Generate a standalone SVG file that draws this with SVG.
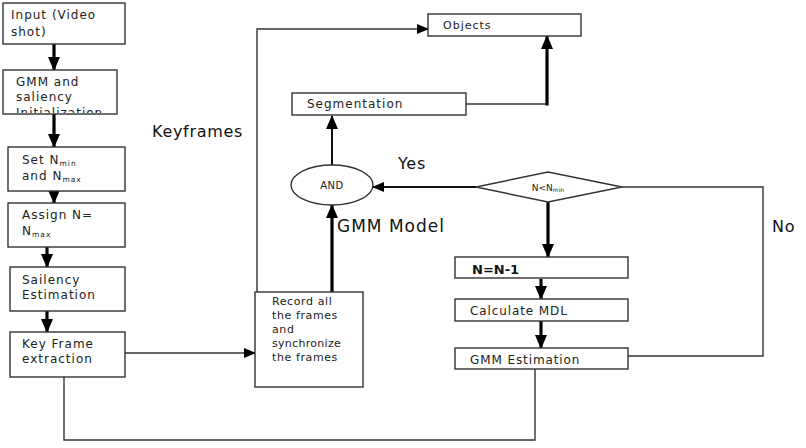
<svg xmlns="http://www.w3.org/2000/svg" width="806" height="448" viewBox="0 0 806 448">
<style>
.box{fill:#fff;stroke:#333;stroke-width:1.4}
.t{font-family:"DejaVu Sans",sans-serif;font-size:12px;fill:#222;letter-spacing:1px}
.tb{font-family:"DejaVu Sans",sans-serif;font-size:13px;fill:#111;font-weight:bold}
.lbl{font-family:"DejaVu Sans",sans-serif;font-size:16px;fill:#111;letter-spacing:0.7px}
.sub{font-size:7.5px}
.thin{fill:none;stroke:#333;stroke-width:1.4}
.mid{fill:none;stroke:#111;stroke-width:2}
.thick{fill:none;stroke:#000;stroke-width:3.2}
</style>
<defs>
<marker id="ah" markerUnits="userSpaceOnUse" markerWidth="12" markerHeight="10" refX="11" refY="5" orient="auto"><path d="M0,0 L12,5 L0,10 z" fill="#000"/></marker>
<marker id="ahb" markerUnits="userSpaceOnUse" markerWidth="14" markerHeight="12" refX="13" refY="6" orient="auto"><path d="M0,0 L14,6 L0,12 z" fill="#000"/></marker>
<clipPath id="cl"><rect x="3" y="70" width="114" height="43"/></clipPath>
</defs>
<g id="connectors">
<line class="thick" x1="54" y1="44" x2="54" y2="70" marker-end="url(#ahb)"/>
<line class="thick" x1="54" y1="114" x2="54" y2="147" marker-end="url(#ahb)"/>
<line class="thick" x1="54" y1="191" x2="54" y2="203" marker-end="url(#ahb)"/>
<line class="thick" x1="47" y1="247" x2="47" y2="267" marker-end="url(#ahb)"/>
<line class="thick" x1="47" y1="311" x2="47" y2="332" marker-end="url(#ahb)"/>
<line class="thin" x1="125" y1="353" x2="255" y2="353" marker-end="url(#ah)"/>
<polyline class="thin" points="257,292 257,29 428,29" marker-end="url(#ah)"/>
<line class="thick" x1="332" y1="292" x2="332" y2="205" marker-end="url(#ahb)"/>
<line class="mid" x1="332" y1="165" x2="332" y2="116" marker-end="url(#ahb)"/>
<line class="thin" x1="466" y1="104" x2="547" y2="104"/>
<line class="thick" x1="547" y1="105.5" x2="547" y2="36" marker-end="url(#ahb)"/>
<line class="mid" x1="476" y1="187" x2="373" y2="187" marker-end="url(#ah)"/>
<line class="thick" x1="548" y1="202" x2="548" y2="257" marker-end="url(#ahb)"/>
<line class="thick" x1="541" y1="279" x2="541" y2="299" marker-end="url(#ahb)"/>
<line class="thick" x1="541" y1="321" x2="541" y2="348" marker-end="url(#ahb)"/>
<polyline class="thin" points="622,187 763,187 763,356 628,356"/>
<polyline class="thin" points="64,377 64,440 535,440 535,369"/>
</g>
<g id="input"><rect class="box" x="3" y="3" width="122" height="41"/><text class="t" x="11" y="19">Input (Video</text><text class="t" x="11" y="36">shot)</text></g>
<g id="gmm-init"><rect class="box" x="3" y="70" width="114" height="44"/><g clip-path="url(#cl)"><text class="t" x="16" y="86">GMM and</text><text class="t" x="16" y="101">saliency</text><text class="t" x="16" y="117">Initialization</text></g></g>
<g id="set-n"><rect class="box" x="8" y="147" width="117" height="44"/><text class="t" x="22" y="164">Set N<tspan class="sub" dy="2">min</tspan></text><text class="t" x="22" y="180">and N<tspan class="sub" dy="2">max</tspan></text></g>
<g id="assign-n"><rect class="box" x="8" y="203" width="117" height="44"/><text class="t" x="22" y="219">Assign N=</text><text class="t" x="22" y="235">N<tspan class="sub" dy="2">max</tspan></text></g>
<g id="saliency"><rect class="box" x="10" y="267" width="115" height="44"/><text class="t" x="22" y="284">Sailency</text><text class="t" x="22" y="299">Estimation</text></g>
<g id="keyframe"><rect class="box" x="10" y="332" width="115" height="45"/><text class="t" x="22" y="348">Key Frame</text><text class="t" x="22" y="363">extraction</text></g>
<g id="record"><rect class="box" x="255" y="292" width="108" height="95"/><text class="t" x="272" y="305" style="font-size:11px;letter-spacing:0.6px">Record all</text><text class="t" x="272" y="319" style="font-size:11px;letter-spacing:0.6px">the frames</text><text class="t" x="272" y="333" style="font-size:11px;letter-spacing:0.6px">and</text><text class="t" x="272" y="347" style="font-size:11px;letter-spacing:0.3px">synchronize</text><text class="t" x="272" y="361" style="font-size:11px;letter-spacing:0.6px">the frames</text></g>
<g id="objects"><rect class="box" x="428" y="14" width="153" height="22"/><text class="t" x="443" y="29" style="font-size:11px">Objects</text></g>
<g id="segmentation"><rect class="box" x="292" y="93" width="174" height="22"/><text class="t" x="307" y="108">Segmentation</text></g>
<g id="and"><ellipse class="box" cx="332" cy="185" rx="41" ry="20"/><text class="t" x="332" y="189" text-anchor="middle" style="font-size:10px;letter-spacing:0.5px">AND</text></g>
<g id="decision"><polygon class="box" points="476,187 548,172 622,187 548,202"/><text class="t" x="548" y="191" text-anchor="middle" style="font-size:9px;letter-spacing:0">N&lt;N<tspan style="font-size:6px" dy="1">min</tspan></text></g>
<g id="n-minus"><rect class="box" x="455" y="257" width="173" height="21"/><text class="tb" x="472" y="274">N=N-1</text></g>
<g id="mdl"><rect class="box" x="455" y="299" width="173" height="22"/><text class="t" x="470" y="315" style="letter-spacing:0.9px">Calculate MDL</text></g>
<g id="gmm-est"><rect class="box" x="455" y="348" width="173" height="21"/><text class="t" x="470" y="364" style="letter-spacing:0.9px">GMM Estimation</text></g>
<g id="labels">
<text class="lbl" x="152" y="137">Keyframes</text>
<text class="lbl" x="398" y="169">Yes</text>
<text class="lbl" x="337" y="232" style="font-size:17px;letter-spacing:1px">GMM Model</text>
<text class="lbl" x="772" y="232">No</text>
</g>
</svg>
